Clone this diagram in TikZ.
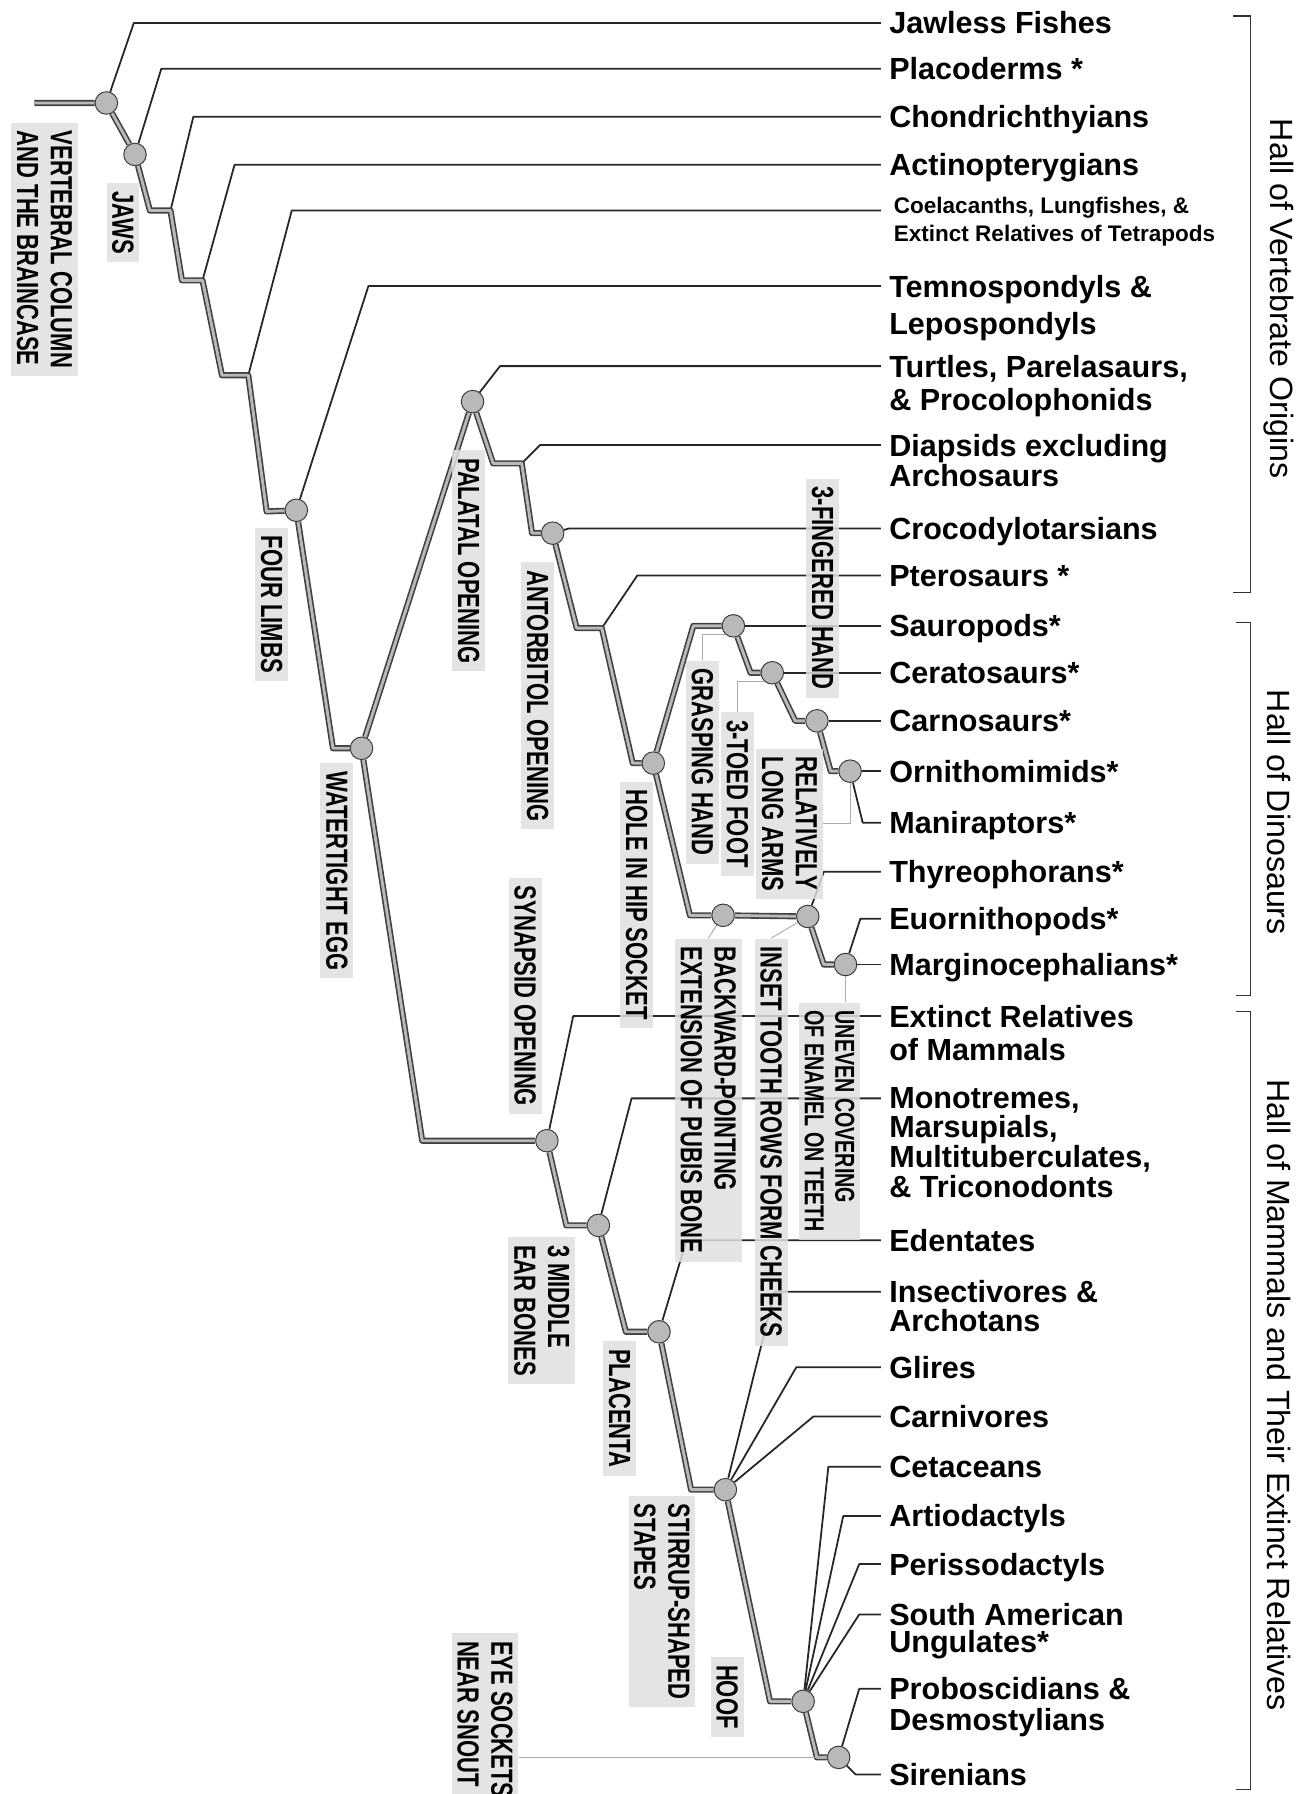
\documentclass[tikz,border=0pt]{standalone}
\usepackage{fontspec}
\setmainfont{Liberation Sans}
\newfontfamily\narrowfont{Liberation Sans}[FakeStretch=0.72]
\usepackage{tikz}
\usetikzlibrary{positioning}
\pgfdeclarelayer{bg}
\pgfsetlayers{bg,main}
\tikzset{
    trunk/.style={draw=black!75, line width=1pt, double=gray!55, double distance=1.8pt, line join=round},
    leaf/.style={draw=black!85, line width=1.1pt, line join=round},
    leader/.style={draw=gray!65, line width=0.6pt},
    clade/.style={circle, draw=gray!45!black, fill=gray!55, line width=0.6pt, minimum size=14pt, inner sep=0pt},
    trait/.style={fill=gray!25, fill opacity=0.85, text opacity=1, rotate=-90, anchor=west, align=left,
        inner xsep=5pt, inner ysep=3.5pt, font=\narrowfont\bfseries\fontsize{19}{21}\selectfont},
    taxon/.style={anchor=base west, align=left, inner sep=0pt, font=\bfseries\fontsize{19}{20}\selectfont},
    taxa/.style={taxon, anchor=north west, font=\bfseries\fontsize{19}{#1}\selectfont},
    hall/.style={rotate=-90, font=\fontsize{20}{22}\selectfont},
    bracket/.style={draw=black!80, line width=1pt},
}

\begin{document}
\begin{tikzpicture}[x=0.025cm, y=-0.025cm]
	\useasboundingbox (0,0) rectangle (1132,1568);

	% clades
	\node[clade] (vert) at (93,90) {};
	\node[clade] (jaws) at (118,135) {};
	\node[clade] (fl) at (259,446) {};
	\node[clade] (we) at (316,654) {};
	\node[clade] (pal) at (413,351) {};
	\node[clade] (ant) at (483,466) {};
	\node[clade] (hole) at (571,667) {};
	\node[clade] (sau) at (641,547) {};
	\node[clade] (thero) at (675,588) {};
	\node[clade] (tetan) at (714,630) {};
	\node[clade] (manif) at (743,674) {};
	\node[clade] (ornith) at (632,800) {};
	\node[clade] (gena) at (706,801) {};
	\node[clade] (cera) at (739,843) {};
	\node[clade] (syn) at (478,997) {};
	\node[clade] (ear) at (523,1071) {};
	\node[clade] (plac) at (576,1164) {};
	\node[clade] (stir) at (634,1302) {};
	\node[clade] (hoof) at (702,1487) {};
	\node[clade] (eye) at (733,1536) {};

	\coordinate (root) at (30,90);
	\coordinate (j1) at (149,184);
	\coordinate (j2) at (177,245);
	\coordinate (j3) at (217,328);
	\coordinate (j4) at (456,405);
	\coordinate (j5) at (526,549);

	% characters
	\node[trait] (lvert) at (39,107) {VERTEBRAL COLUMN\\AND THE BRAINCASE};
	\node[trait] (ljaws) at (107.5,160) {JAWS};
	\node[trait] (lfl) at (237.5,461) {FOUR LIMBS};
	\node[trait] (lwe) at (294.5,667) {WATERTIGHT EGG};
	\node[trait] (lpal) at (409.5,393) {PALATAL OPENING};
	\node[trait] (lant) at (470,491) {ANTORBITOL OPENING};
	\node[trait] (lhole) at (556.5,683) {HOLE IN HIP SOCKET};
	\node[trait] (lgrasp) at (614,577) {GRASPING HAND};
	\node[trait] (ltoed) at (644.5,622) {3-TOED FOOT};
	\node[trait] (lfing) at (719,418) {3-FINGERED HAND};
	\node[trait] (larms) at (690,654) {RELATIVELY\\LONG ARMS};
	\node[trait] (lpubis) at (619,820) {BACKWARD-POINTING\\EXTENSION OF PUBIS BONE};
	\node[trait] (lcheek) at (674,820) {INSET TOOTH ROWS FORM CHEEKS};
	\node[trait, font=\narrowfont\bfseries\fontsize{17}{19}\selectfont] (lenamel) at (725,876) {UNEVEN COVERING\\OF ENAMEL ON TEETH};
	\node[trait] (lsyn) at (459,767) {SYNAPSID OPENING};
	\node[trait] (lear) at (473.5,1081) {3 MIDDLE\\EAR BONES};
	\node[trait] (lplac) at (541.5,1172) {PLACENTA};
	\node[trait] (lstir) at (578.5,1307) {STIRRUP-SHAPED\\STAPES};
	\node[trait] (lhoof) at (635.5,1448) {HOOF};
	\node[trait] (leye) at (424,1427) {EYE SOCKETS\\NEAR SNOUT};

	% taxa
	\coordinate (t1) at (770,20);    \node[taxon] (jawless) at (777,29.6) {Jawless Fishes};
	\coordinate (t2) at (770,60);    \node[taxon] (placo) at (777,69.6) {Placoderms *};
	\coordinate (t3) at (770,102);   \node[taxon] (chond) at (777,111.6) {Chondrichthyians};
	\coordinate (t4) at (770,144);   \node[taxon] (actino) at (777,153.6) {Actinopterygians};
	\coordinate (t5) at (770,184);   \node[taxon, anchor=north west, font=\bfseries\fontsize{14}{17.5}\selectfont] (coela) at (781,172) {Coelacanths, Lungfishes, \&\\Extinct Relatives of Tetrapods};
	\coordinate (t6) at (770,250);   \node[taxa=23.4] (temno) at (777,240) {Temnospondyls \&\\Lepospondyls};
	\coordinate (t7) at (770,320);   \node[taxa=21] (turtle) at (777,310) {Turtles, Parelasaurs,\\\& Procolophonids};
	\coordinate (t8) at (770,389);   \node[taxa=19] (diaps) at (777,379) {Diapsids excluding\\Archosaurs};
	\coordinate (t9) at (770,462);   \node[taxon] (croc) at (777,471.6) {Crocodylotarsians};
	\coordinate (t10) at (770,503);  \node[taxon] (ptero) at (777,512.6) {Pterosaurs *};
	\coordinate (t11) at (770,547);  \node[taxon] (sauro) at (777,556.6) {Sauropods*};
	\coordinate (t12) at (770,588);  \node[taxon] (cerato) at (777,597.6) {Ceratosaurs*};
	\coordinate (t13) at (770,630);  \node[taxon] (carno) at (777,639.6) {Carnosaurs*};
	\coordinate (t14) at (770,674);  \node[taxon] (ornim) at (777,683.6) {Ornithomimids*};
	\coordinate (t15) at (770,719);  \node[taxon] (manir) at (777,728.6) {Maniraptors*};
	\coordinate (t16) at (770,762);  \node[taxon] (thyreo) at (777,771.6) {Thyreophorans*};
	\coordinate (t17) at (770,803);  \node[taxon] (euorn) at (777,812.6) {Euornithopods*};
	\coordinate (t18) at (770,843);  \node[taxon] (margi) at (777,852.6) {Marginocephalians*};
	\coordinate (t19) at (770,888);  \node[taxa=21] (extrel) at (777,878) {Extinct Relatives\\of Mammals};
	\coordinate (t20) at (770,960);  \node[taxa=18.4] (monot) at (777,950) {Monotremes,\\Marsupials,\\Multituberculates,\\\& Triconodonts};
	\coordinate (t21) at (770,1084); \node[taxon] (edent) at (777,1093.6) {Edentates};
	\coordinate (t22) at (770,1129); \node[taxa=17.7] (insect) at (777,1119) {Insectivores \&\\Archotans};
	\coordinate (t23) at (770,1195); \node[taxon] (glires) at (777,1204.6) {Glires};
	\coordinate (t24) at (770,1238); \node[taxon] (carni) at (777,1247.6) {Carnivores};
	\coordinate (t25) at (770,1282); \node[taxon] (ceta) at (777,1291.6) {Cetaceans};
	\coordinate (t26) at (770,1325); \node[taxon] (artio) at (777,1334.6) {Artiodactyls};
	\coordinate (t27) at (770,1367); \node[taxon] (peris) at (777,1376.6) {Perissodactyls};
	\coordinate (t28) at (770,1411); \node[taxa=17] (sameri) at (777,1401) {South American\\Ungulates*};
	\coordinate (t29) at (770,1476); \node[taxa=19] (probo) at (777,1466) {Proboscidians \&\\Desmostylians};
	\coordinate (t30) at (770,1551); \node[taxon] (siren) at (777,1560.6) {Sirenians};

	% halls
	\draw[bracket] (1078,14) -- (1093,14) -- (1093,518) -- (1078,518);
	\draw[bracket] (1080,544) -- (1093,544) -- (1093,870) -- (1080,870);
	\draw[bracket] (1080,884) -- (1093,884) -- (1093,1564) -- (1080,1564);
	\node[hall] (hall1) at (1118,261) {Hall of Vertebrate Origins};
	\node[hall] (hall2) at (1118,710) {Hall of Dinosaurs};
	\node[hall] (hall3) at (1118,1219) {Hall of Mammals and Their Extinct Relatives};

	\begin{pgfonlayer}{bg}
	\draw[leaf] (vert) -- (117,20) -- (t1);
	\draw[leaf] (jaws) -- (141,60) -- (t2);
	\draw[leaf] (j1) -- (169,102) -- (t3);
	\draw[leaf] (j2) -- (205,144) -- (t4);
	\draw[leaf] (j3) -- (255,184) -- (t5);
	\draw[leaf] (fl) -- (322,250) -- (t6);
	\draw[leaf] (pal) -- (437,320) -- (t7);
	\draw[leaf] (j4) -- (472,389) -- (t8);
	\draw[leaf] (ant) -- (497,462) -- (t9);
	\draw[leaf] (j5) -- (557,503) -- (t10);
	\draw[leaf] (sau) -- (t11);
	\draw[leaf] (thero) -- (t12);
	\draw[leaf] (tetan) -- (t13);
	\draw[leaf] (manif) -- (t14);
	\draw[leaf] (manif) -- (754,719) -- (t15);
	\draw[leaf] (gena) -- (720,762) -- (t16);
	\draw[leaf] (cera) -- (752,803) -- (t17);
	\draw[leaf] (cera) -- (t18);
	\draw[leaf] (syn) -- (501,888) -- (t19);
	\draw[leaf] (ear) -- (552,960) -- (t20);
	\draw[leaf] (plac) -- (600,1084) -- (t21);
	\draw[leaf] (stir) -- (677,1129) -- (t22);
	\draw[leaf] (stir) -- (696,1195) -- (t23);
	\draw[leaf] (stir) -- (711,1238) -- (t24);
	\draw[leaf] (hoof) -- (724,1282) -- (t25);
	\draw[leaf] (hoof) -- (737,1325) -- (t26);
	\draw[leaf] (hoof) -- (751,1367) -- (t27);
	\draw[leaf] (hoof) -- (751,1411) -- (t28);
	\draw[leaf] (eye) -- (751,1476) -- (t29);
	\draw[leaf] (eye) -- (748,1551) -- (t30);

	\draw[trunk] (root) -- (vert) -- (jaws) -- (131,184) -- (j1) -- (159,245) -- (j2) -- (194,328) -- (j3) -- (233,447) -- (fl) -- (291,654) -- (we);
	\draw[trunk] (we) -- (pal) -- (431,405) -- (j4) -- (465,466) -- (ant) -- (504,549) -- (j5) -- (553,667) -- (hole);
	\draw[trunk] (hole) -- (606,547) -- (sau) -- (656,588) -- (thero) -- (695,630) -- (tetan) -- (726,674) -- (manif);
	\draw[trunk] (hole) -- (603,800) -- (ornith) -- (gena) -- (720,843) -- (cera);
	\draw[trunk] (we) -- (369,997) -- (syn) -- (495,1071) -- (ear) -- (547,1164) -- (plac) -- (604,1302) -- (stir) -- (673,1487) -- (hoof) -- (714,1536) -- (eye);

	\draw[leader] (lgrasp.west) |- (sau.south west);
	\draw[leader] (ltoed.west) |- (thero.south west);
	\draw[leader] (larms.north) -| (manif.south);
	\draw[leader] (lpubis.west) -- (ornith);
	\draw[leader] (lcheek.west) -- (gena);
	\draw[leader] (cera.south) -- (cera.south |- lenamel.west);
	\draw[leader] (leye.north |- eye) -- (eye);
	\end{pgfonlayer}
\end{tikzpicture}
\end{document}
